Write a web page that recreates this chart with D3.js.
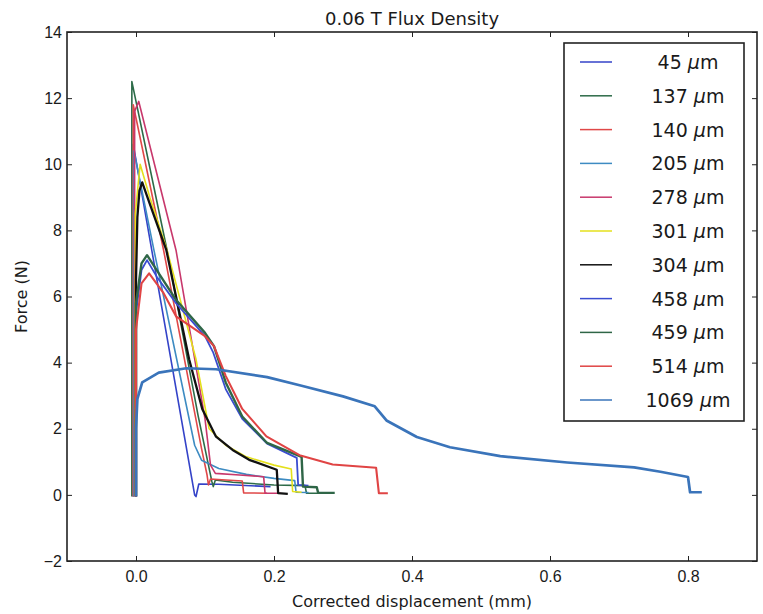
<!DOCTYPE html>
<html>
<head>
<meta charset="utf-8">
<script src="https://cdn.jsdelivr.net/npm/d3@7"></script>
<style>
  body { margin: 0; background: #fff; }
  svg { font-family: "DejaVu Sans", sans-serif; }
  .axis path, .axis line { stroke: #222; }
  .axis text { font-size: 16px; fill: #1a1a1a; }
</style>
</head>
<body>
<div id="chart"></div>
<script>
// series labels (thickness in um)
const labels = ["45", "137", "140", "205", "278", "301", "304", "458", "459", "514", "1069"];

// force curves, [displacement mm, force N]
const s45 = [[-0.004,-0.05],[-0.004,10.6],[0.085,0.0],[0.087,-0.05],[0.091,0.33],[0.12,0.32],[0.195,0.25]];
const s137 = [[-0.006,-0.05],[-0.006,12.5],[0.0,11.9],[0.045,7.4],[0.09,2.4],[0.105,0.9],[0.11,0.4],[0.112,0.25],[0.115,0.45],[0.14,0.38],[0.2,0.3],[0.245,0.28],[0.247,0.05],[0.27,0.05]];
const s140 = [[-0.004,-0.05],[-0.004,11.8],[0.04,7.4],[0.095,1.4],[0.103,0.6],[0.105,0.3],[0.108,0.48],[0.13,0.45],[0.154,0.42],[0.156,0.06],[0.19,0.05]];
const s205 = [[-0.003,-0.05],[-0.003,10.4],[0.026,7.4],[0.085,1.5],[0.095,1.05],[0.12,0.8],[0.16,0.62],[0.2,0.5],[0.23,0.43],[0.232,0.08],[0.25,0.07]];
const s278 = [[-0.002,-0.05],[-0.002,11.6],[0.004,11.9],[0.058,7.4],[0.1,2.3],[0.108,0.9],[0.115,0.65],[0.15,0.6],[0.185,0.55],[0.187,0.05],[0.21,0.05]];
const s301 = [[-0.001,-0.05],[-0.001,8.5],[0.006,10.0],[0.02,9.0],[0.045,7.4],[0.087,4.1],[0.106,2.0],[0.13,1.5],[0.16,1.15],[0.2,0.9],[0.225,0.78],[0.227,0.1],[0.24,0.08]];
const s304 = [[0.0,-0.05],[0.0,6.5],[0.002,8.4],[0.005,9.2],[0.009,9.45],[0.02,8.8],[0.044,7.4],[0.077,4.1],[0.096,2.6],[0.116,1.76],[0.14,1.36],[0.164,1.06],[0.204,0.76],[0.206,0.05],[0.22,0.03]];
const s458 = [[0.0,-0.05],[0.0,5.5],[0.008,6.8],[0.016,7.1],[0.03,6.6],[0.058,5.8],[0.1,4.8],[0.112,4.3],[0.13,3.2],[0.154,2.3],[0.19,1.55],[0.233,1.12],[0.235,0.3],[0.25,0.28]];
const s459 = [[0.0,-0.05],[0.0,5.8],[0.008,7.0],[0.016,7.25],[0.03,6.8],[0.058,5.9],[0.1,4.9],[0.113,4.5],[0.13,3.4],[0.154,2.37],[0.19,1.57],[0.24,1.15],[0.242,0.25],[0.262,0.23],[0.264,0.06],[0.288,0.06]];
const s514 = [[0.0,-0.05],[0.0,5.0],[0.008,6.4],[0.019,6.7],[0.04,6.1],[0.058,5.4],[0.1,4.8],[0.113,4.5],[0.13,3.6],[0.154,2.6],[0.189,1.77],[0.237,1.2],[0.285,0.92],[0.348,0.82],[0.352,0.05],[0.365,0.05]];
const s1069 = [[0.0,-0.05],[0.0,2.0],[0.002,2.9],[0.009,3.4],[0.033,3.7],[0.073,3.83],[0.116,3.8],[0.19,3.56],[0.24,3.3],[0.3,2.98],[0.346,2.68],[0.363,2.25],[0.407,1.75],[0.455,1.44],[0.528,1.17],[0.625,0.98],[0.722,0.83],[0.76,0.7],[0.8,0.54],[0.803,0.08],[0.82,0.08]];

const xTicks = [0.0, 0.2, 0.4, 0.6, 0.8];
const yTicks = [-2, 0, 2, 4, 6, 8, 10, 12, 14];

const allSeries = [s45, s137, s140, s205, s278, s301, s304, s458, s459, s514, s1069];
const colors = ["#3443c8", "#2d6b48", "#e04848", "#3d8bc2", "#c8386c", "#e4e01c",
    "#111111", "#3a4cd0", "#2f6647", "#e04444", "#3a74ba"];
const widths = [1.6, 1.6, 1.6, 1.6, 1.6, 1.6, 2.3, 1.8, 2.4, 2.1, 2.7];

const W = 763, H = 614;
const margin = {top: 32, right: 6, bottom: 53, left: 67};
const width = W - margin.left - margin.right;
const height = H - margin.top - margin.bottom;

const svg = d3.select("#chart").append("svg")
    .attr("width", W)
    .attr("height", H);

const g = svg.append("g")
    .attr("transform", `translate(${margin.left},${margin.top})`);

// scales
const x = d3.scaleLinear().domain([-0.1, 0.9]).range([0, width]);
const y = d3.scaleLinear().domain([-2, 14]).range([height, 0]);

g.append("clipPath").attr("id", "clip")
    .append("rect").attr("width", width).attr("height", height);

// lines
const line = d3.line().x(d => x(d[0])).y(d => y(d[1]));

g.append("g").attr("clip-path", "url(#clip)")
    .selectAll("path")
    .data(allSeries)
    .join("path")
    .attr("d", line)
    .attr("fill", "none")
    .attr("stroke", (d, i) => colors[i])
    .attr("stroke-width", (d, i) => widths[i])
    .attr("stroke-linejoin", "round");

// axes, matplotlib style: ticks inside on all four sides
g.append("g").attr("class", "axis")
    .attr("transform", `translate(0,${height})`)
    .call(d3.axisBottom(x).tickValues(xTicks).tickFormat(d3.format(".1f"))
        .tickSizeInner(-5).tickSizeOuter(0).tickPadding(10))
    .call(a => a.select(".domain").remove());

g.append("g").attr("class", "axis")
    .call(d3.axisTop(x).tickValues(xTicks).tickFormat("").tickSizeInner(-5).tickSizeOuter(0))
    .call(a => a.select(".domain").remove());

g.append("g").attr("class", "axis")
    .call(d3.axisLeft(y).tickValues(yTicks).tickFormat(d3.format("d"))
        .tickSizeInner(-5).tickSizeOuter(0).tickPadding(5))
    .call(a => a.select(".domain").remove())
    .selectAll("text").text(d => d < 0 ? "\u2212" + Math.abs(d) : d);

g.append("g").attr("class", "axis")
    .attr("transform", `translate(${width},0)`)
    .call(d3.axisRight(y).tickValues(yTicks).tickFormat("").tickSizeInner(-5).tickSizeOuter(0))
    .call(a => a.select(".domain").remove());

g.append("rect")
    .attr("width", width).attr("height", height)
    .attr("fill", "none").attr("stroke", "#222").attr("stroke-width", 1.6);

// titles
svg.append("text")
    .attr("x", margin.left + width / 2).attr("y", 25)
    .attr("text-anchor", "middle")
    .attr("font-size", 18).attr("fill", "#1a1a1a")
    .text("0.06 T Flux Density");

svg.append("text")
    .attr("x", margin.left + width / 2).attr("y", 607)
    .attr("text-anchor", "middle")
    .attr("font-size", 16).attr("fill", "#1a1a1a")
    .text("Corrected displacement (mm)");

svg.append("text")
    .attr("transform", `translate(27,${margin.top + height / 2}) rotate(-90)`)
    .attr("text-anchor", "middle")
    .attr("font-size", 16).attr("fill", "#1a1a1a")
    .text("Force (N)");

// legend
const legend = g.append("g")
    .attr("transform", `translate(${564 - margin.left},${43 - margin.top})`);

legend.append("rect")
    .attr("width", 180).attr("height", 378)
    .attr("fill", "#fff").attr("stroke", "#222").attr("stroke-width", 1.6);

const item = legend.selectAll("g.item")
    .data(labels)
    .join("g")
    .attr("class", "item")
    .attr("transform", (d, i) => `translate(0,${19 + i * 33.8})`);

item.append("line")
    .attr("x1", 16).attr("x2", 48)
    .attr("stroke", (d, i) => colors[i])
    .attr("stroke-width", 1.5);

const label = item.append("text")
    .attr("x", 124).attr("y", 7)
    .attr("text-anchor", "middle")
    .attr("font-size", 19).attr("fill", "#1a1a1a");
label.append("tspan").text(d => d + " ");
label.append("tspan").attr("font-style", "italic").text("\u03bc");
label.append("tspan").text("m");
</script>
</body>
</html>
